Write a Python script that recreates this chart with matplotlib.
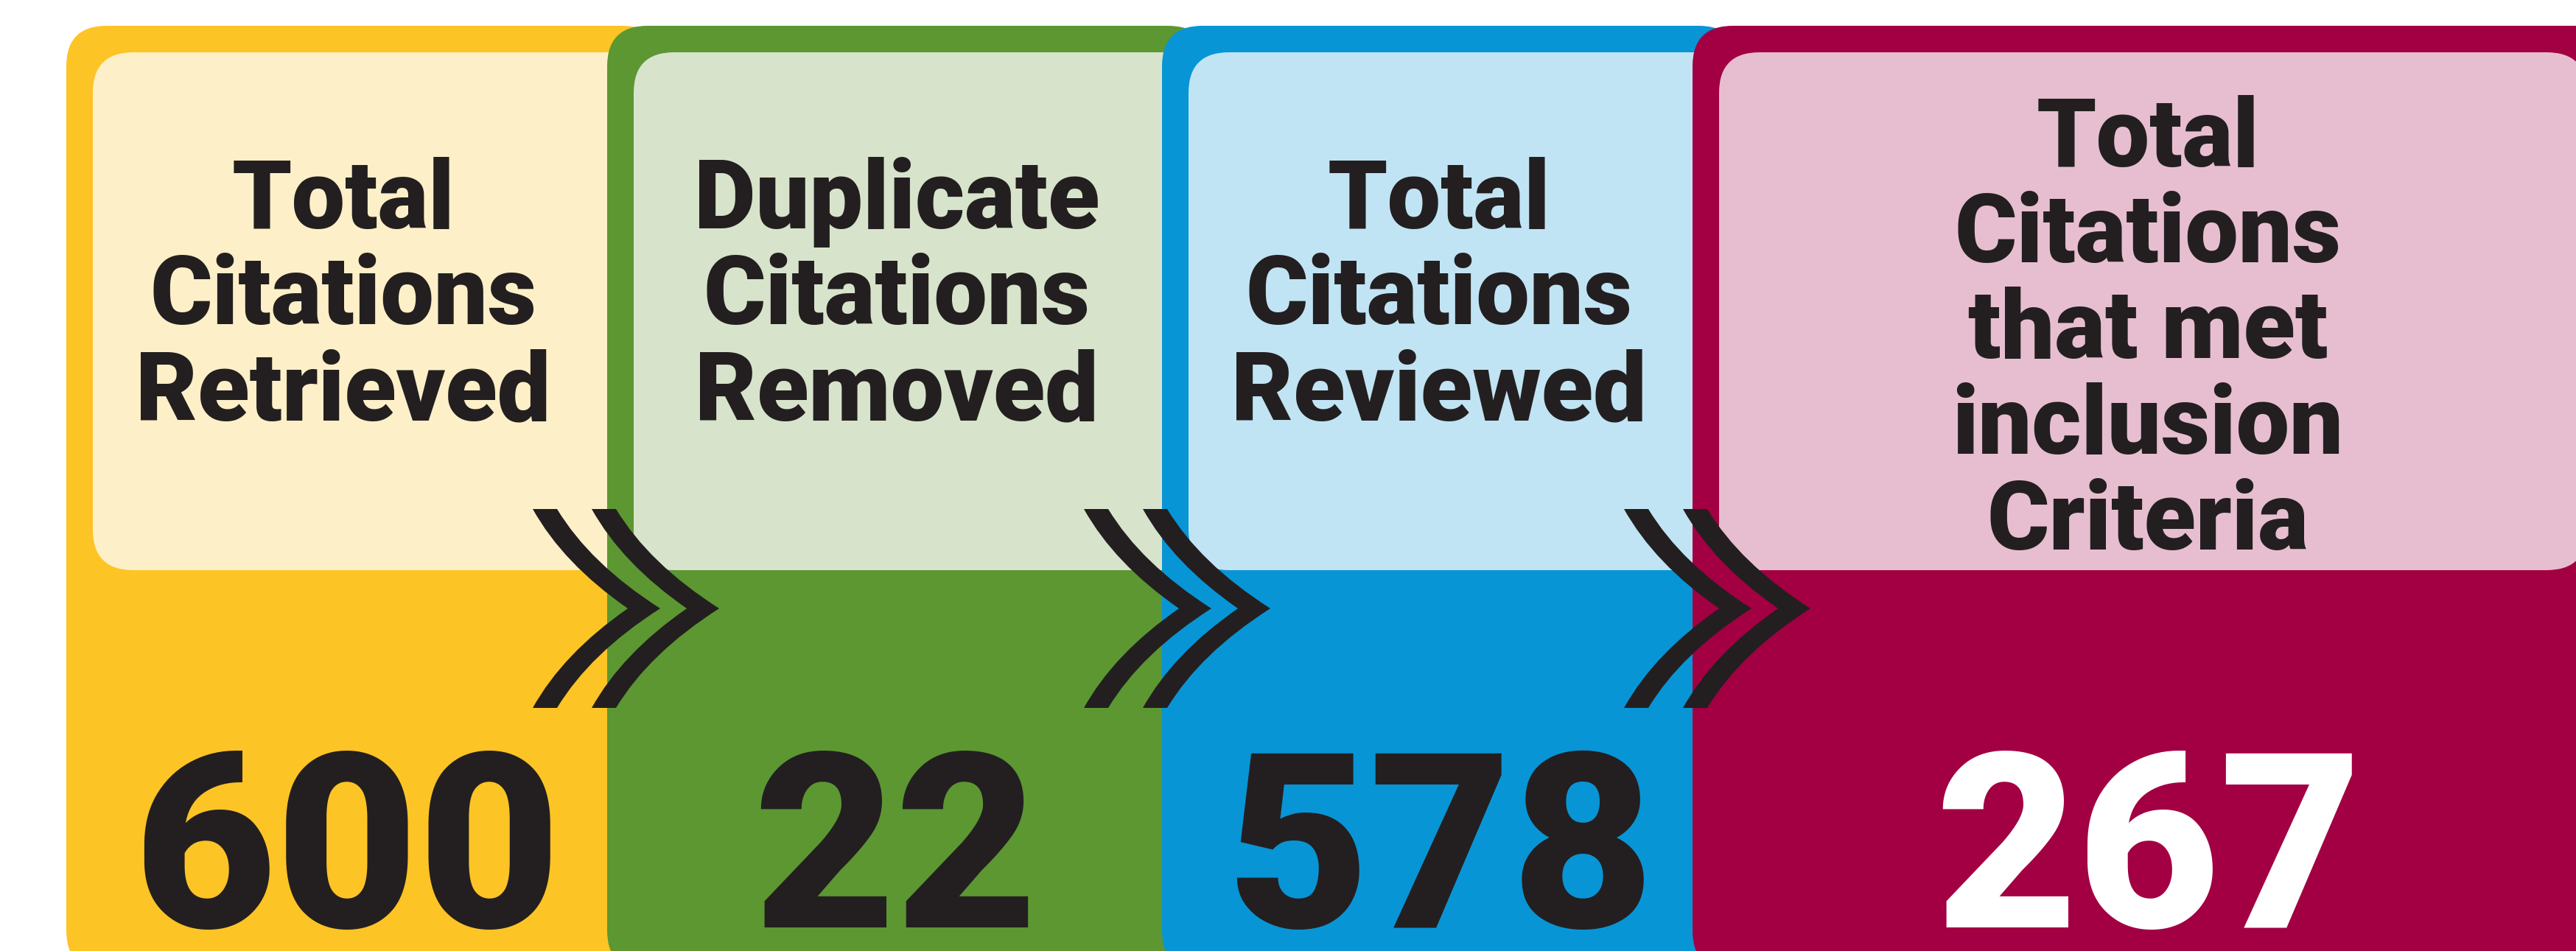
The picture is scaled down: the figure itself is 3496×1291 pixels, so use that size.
import matplotlib
matplotlib.use("Agg")
import matplotlib.pyplot as plt
from matplotlib.patches import FancyBboxPatch, PathPatch
from matplotlib.path import Path

# ---- data ----
labels = [
    ["Total", "Citations", "Retrieved"],
    ["Duplicate", "Citations", "Removed"],
    ["Total", "Citations", "Reviewed"],
    ["Total", "Citations", "that met", "inclusion", "Criteria"],
]
values = [600, 22, 578, 267]

# ---- style ----
dark_cols = ["#FDC425", "#5C9732", "#0895D6", "#A20042"]
light_cols = ["#FDF0C8", "#D7E4CB", "#C1E4F4", "#E7BED0"]
value_cols = ["#231F20", "#231F20", "#231F20", "#FFFFFF"]
text_col = "#231F20"
FONT = ["Roboto", "DejaVu Sans"]

W, H = 3496, 1291
fig = plt.figure(figsize=(W / 100, H / 100), dpi=100)
ax = fig.add_axes([0, 0, 1, 1])
ax.set_xlim(0, W)
ax.set_ylim(H, 0)
ax.axis("off")

box_left = [90, 824, 1577, 2297]
box_right = [900, 1640, 2360, 3560]
inner_right = [900, 1640, 2360, 3511]
top, bottom = 35, 1318
inset = 36
panel_top, panel_bottom = 71, 774
R = 55

text_cx = [466, 1217, 1953, 2915]
num_cx = [471, 1215, 1955, 2916]

for i in range(4):
    x0, x1 = box_left[i], box_right[i]
    ax.add_patch(FancyBboxPatch((x0, top), x1 - x0, bottom - top,
                                boxstyle=f"round,pad=0,rounding_size={R}",
                                fc=dark_cols[i], ec="none", zorder=1 + 2 * i))
    ix0 = x0 + inset
    ax.add_patch(FancyBboxPatch((ix0, panel_top), inner_right[i] - ix0, panel_bottom - panel_top,
                                boxstyle=f"round,pad=0,rounding_size={R}",
                                fc=light_cols[i], ec="none", zorder=2 + 2 * i))

# labels and values
for i, lines in enumerate(labels):
    base0 = 310 if len(lines) == 3 else 226
    for k, line in enumerate(lines):
        ax.text(text_cx[i], base0 + 130 * k, line, ha="center", va="baseline",
                fontsize=93, fontweight="black", family=FONT, color=text_col, zorder=20)
    ax.text(num_cx[i], 1259, str(values[i]), ha="center", va="baseline",
            fontsize=240, fontweight="black", family=FONT, color=value_cols[i], zorder=20)

# chevrons (double)
def chevron(x0):
    ytop, ymid, ybot = 691, 826, 961
    w = 33
    tip_in, tip_out = x0 + 129, x0 + 173
    def ctrl(xa, ya, xb, yb):
        return (xa + 0.32 * (xb - xa), ya + 0.55 * (yb - ya))
    verts, codes = [], []
    verts.append((x0, ytop)); codes.append(Path.MOVETO)
    verts += [ctrl(x0, ytop, tip_in, ymid), (tip_in, ymid)]; codes += [Path.CURVE3] * 2
    verts += [ctrl(x0, ybot, tip_in, ymid), (x0, ybot)]; codes += [Path.CURVE3] * 2
    verts.append((x0 + w, ybot)); codes.append(Path.LINETO)
    verts += [ctrl(x0 + w, ybot, tip_out, ymid), (tip_out, ymid)]; codes += [Path.CURVE3] * 2
    verts += [ctrl(x0 + w, ytop, tip_out, ymid), (x0 + w, ytop)]; codes += [Path.CURVE3] * 2
    verts.append((x0, ytop)); codes.append(Path.CLOSEPOLY)
    return Path(verts, codes)

for cx in [723, 1471, 2204]:
    for off in (0, 80):
        ax.add_patch(PathPatch(chevron(cx + off), fc=text_col, ec="none", zorder=30))

fig.savefig("out.png", dpi=100, facecolor="white")
